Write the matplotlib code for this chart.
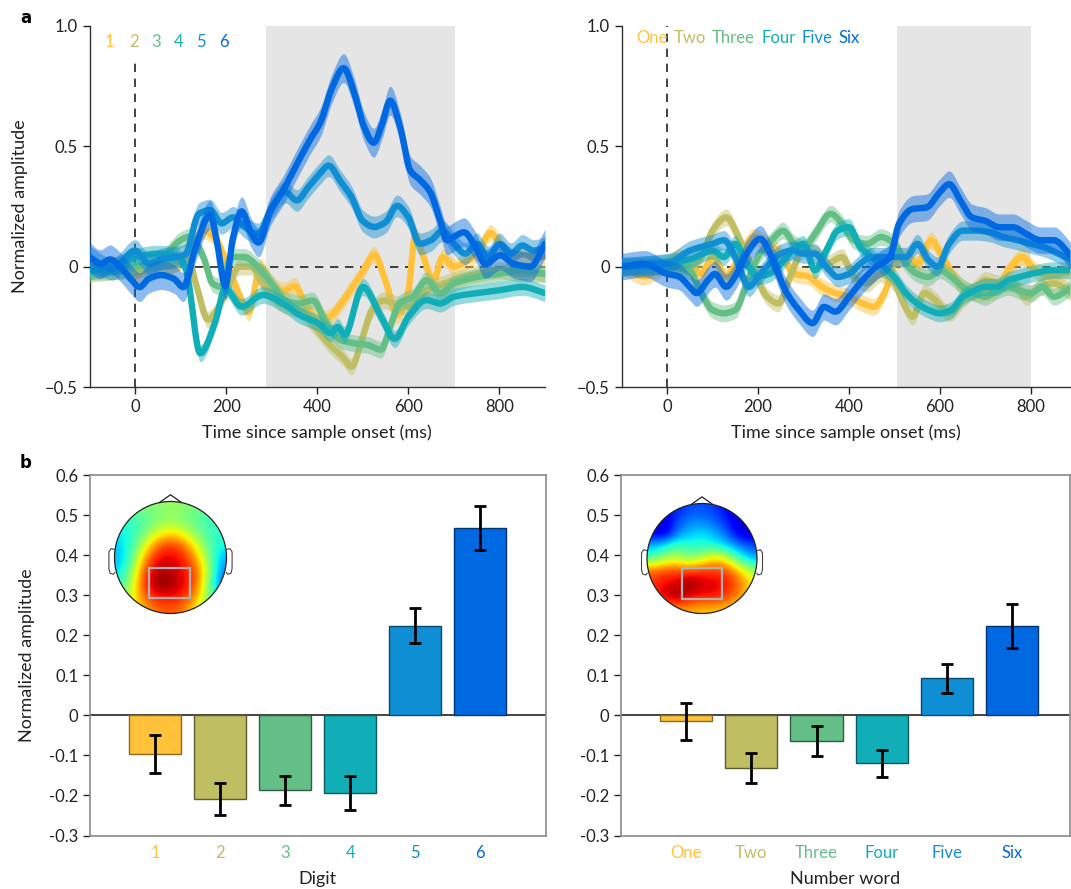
import numpy as np
import matplotlib
matplotlib.use("Agg")
import matplotlib.pyplot as plt
from matplotlib.patches import Circle, Rectangle, Polygon

plt.rcParams['font.family'] = ['Lato', 'DejaVu Sans']

# ---------------- data ----------------
colors = ['#FFC23A', '#C0BE63', '#64BF86', '#12AEB8', '#108ED3', '#0068E0']
edge_colors = ['#8a6a1c', '#5e5c2c', '#2f5e40', '#0a5a60', '#0a4a70', '#03346e']

digit_labels = ['1', '2', '3', '4', '5', '6']
word_labels = ['One', 'Two', 'Three', 'Four', 'Five', 'Six']

# panel a, left (digits): time (ms) / normalized amplitude
L1_t = [-100,-75,-50,-25,0,25,50,75,100,125,150,175,200,225,250,275,300,325,350,375,400,425,450,475,500,525,550,575,600,615,630,655,675,700,725,750,780,800,825,850,875,900]
L1_v = [0.0,-0.01,0.01,0.0,-0.04,0.0,0.02,0.0,0.03,0.08,0.15,0.12,0.02,-0.1,-0.19,0.0,-0.07,-0.1,-0.08,-0.16,-0.22,-0.21,-0.16,-0.09,-0.02,0.05,-0.06,-0.2,-0.1,0.13,0.06,-0.06,0.04,0.0,0.02,0.05,0.14,0.1,0.04,0.05,0.04,0.04]
L2_t = [-100,-50,0,50,100,115,135,160,180,200,230,255,280,320,360,400,430,455,475,500,520,545,570,600,640,700,750,800,850,900]
L2_v = [-0.03,-0.02,-0.01,0.0,0.02,0.04,-0.08,-0.22,-0.18,-0.1,0.0,0.0,-0.07,-0.153,-0.18,-0.263,-0.33,-0.373,-0.415,-0.29,-0.18,-0.14,-0.153,-0.167,-0.1,-0.056,-0.03,-0.015,-0.03,-0.03]
L3_t = [-100,-50,0,50,100,120,150,170,190,210,240,270,300,330,360,390,420,450,480,510,540,560,580,610,640,670,700,750,800,850,900]
L3_v = [-0.02,-0.02,0.0,0.02,0.11,0.125,0.04,-0.07,-0.084,0.04,0.04,0.0,-0.07,-0.14,-0.153,-0.14,-0.235,-0.304,-0.318,-0.325,-0.345,-0.25,-0.153,-0.125,-0.056,-0.11,-0.07,-0.043,-0.03,-0.015,-0.03]
L4_t = [-100,-50,0,50,90,110,117,143,176,198,234,280,330,360,402,430,445,460,500,540,570,600,640,670,700,750,800,850,900]
L4_v = [-0.02,0.0,0.04,0.054,0.047,0.0,-0.06,-0.36,-0.23,-0.09,-0.167,-0.118,-0.16,-0.2,-0.235,-0.277,-0.25,-0.284,-0.084,-0.208,-0.3,-0.208,-0.139,-0.153,-0.125,-0.11,-0.098,-0.084,-0.11]
L5_t = [-100,-50,0,30,60,90,110,140,165,190,215,240,270,300,330,355,380,405,425,450,475,500,525,550,575,600,625,650,675,700,725,750,775,800,825,850,875,900]
L5_v = [0.04,-0.01,0.067,0.012,0.033,0.04,0.05,0.22,0.235,0.18,0.205,0.165,0.136,0.245,0.31,0.275,0.33,0.385,0.42,0.357,0.29,0.19,0.165,0.185,0.253,0.205,0.095,0.11,0.15,0.095,0.054,0.095,0.04,0.095,0.054,0.088,0.067,0.08]
L6_t = [-100,-77,-55,-33,-10,10,30,58,85,106,132,165,180,198,215,234,255,271,297,326,355,385,407,432,458,480,502,524,542,560,582,604,626,648,670,685,705,722,744,769,802,831,868,900]
L6_v = [0.04,0.01,0.03,0.0,-0.05,-0.085,-0.05,-0.035,-0.05,-0.085,0.076,0.215,0.1,-0.08,0.12,0.23,0.14,0.1,0.23,0.32,0.425,0.53,0.6,0.74,0.825,0.73,0.585,0.515,0.59,0.69,0.58,0.40,0.36,0.31,0.19,0.11,0.13,0.143,0.095,0.012,0.047,0.012,0.0,0.095]
L_sem = [0.035, 0.035, 0.035, 0.035, 0.045, 0.06]

# panel a, right (number words)
R1_t = [-100,-50,0,25,50,75,100,130,160,190,220,250,280,310,340,370,400,430,455,480,500,530,550,580,605,630,660,690,720,750,780,810,840,870,890]
R1_v = [0.0,-0.04,0.01,0.04,0.01,-0.03,0.04,-0.04,0.04,0.123,0.095,0.054,-0.03,-0.04,-0.084,-0.11,-0.125,-0.153,-0.167,-0.1,0.012,0.04,0.01,0.11,0.04,-0.04,-0.1,-0.11,-0.1,-0.015,0.04,-0.015,-0.04,-0.03,-0.015]
R2_t = [-100,-50,0,50,75,100,130,160,190,220,245,270,300,330,350,385,410,440,470,500,520,540,565,590,620,650,680,700,730,760,790,820,850,890]
R2_v = [0.0,0.0,0.0,0.0,0.04,0.15,0.205,0.11,-0.015,-0.125,-0.153,-0.043,0.067,0.054,0.012,0.04,-0.04,-0.07,-0.03,-0.07,-0.153,-0.208,-0.11,-0.14,-0.194,-0.14,-0.084,-0.056,-0.07,-0.07,-0.125,-0.084,-0.07,-0.11]
R3_t = [-100,-50,0,50,75,100,125,150,175,200,230,255,280,300,325,360,385,410,440,470,500,525,550,575,600,625,650,675,700,725,750,775,800,825,850,890]
R3_v = [0.0,0.0,0.0,-0.02,-0.11,-0.18,-0.194,-0.18,-0.07,0.04,0.11,0.15,0.095,0.08,0.136,0.22,0.178,0.11,0.095,0.123,0.095,0.012,-0.03,-0.043,-0.015,-0.043,-0.084,-0.11,-0.125,-0.1,-0.084,-0.1,-0.11,-0.084,-0.125,-0.084]
R4_t = [-100,-50,0,50,100,125,150,175,200,225,250,275,300,325,350,375,400,425,450,475,500,525,550,575,600,625,650,675,700,725,750,775,800,850,890]
R4_v = [0.0,0.01,0.02,0.03,0.067,0.04,0.095,0.012,-0.04,-0.03,0.01,0.067,0.095,-0.015,0.067,0.15,0.164,0.08,0.04,0.0,-0.043,-0.11,-0.153,-0.18,-0.194,-0.18,-0.125,-0.1,-0.084,-0.084,-0.056,-0.043,-0.03,-0.015,-0.015]
R5_t = [-100,0,50,100,125,150,180,200,225,250,275,300,325,350,375,400,425,450,475,500,525,550,575,595,620,650,680,710,740,770,800,830,860,890]
R5_v = [0.0,0.012,0.067,0.095,0.11,0.04,-0.084,-0.043,0.012,0.054,0.067,0.054,0.054,0.0,-0.043,-0.03,0.012,0.04,0.04,0.04,0.04,0.095,0.026,0.0,0.095,0.15,0.15,0.143,0.123,0.11,0.095,0.08,0.054,0.026]
R6_t = [-100,-50,0,25,50,65,90,105,130,150,175,205,230,260,290,320,345,370,400,430,460,490,510,540,570,600,620,645,670,700,730,760,790,820,850,890]
R6_v = [0.0,0.012,-0.03,-0.04,-0.084,-0.11,-0.056,-0.03,-0.084,-0.04,0.054,0.116,0.04,-0.098,-0.18,-0.235,-0.167,-0.187,-0.125,-0.056,0.0,0.04,0.178,0.24,0.246,0.31,0.343,0.274,0.205,0.19,0.164,0.164,0.136,0.11,0.11,0.04]
R_sem = [0.035, 0.035, 0.035, 0.035, 0.04, 0.055]

win_left = (287, 703)
win_right = (505, 800)

# panel b: mean amplitude in window and error
digit_means = [-0.097, -0.208, -0.187, -0.194, 0.224, 0.468]
digit_err = [0.048, 0.040, 0.036, 0.042, 0.043, 0.055]
word_means = [-0.015, -0.132, -0.064, -0.120, 0.092, 0.222]
word_err = [0.046, 0.037, 0.038, 0.034, 0.036, 0.055]

# topographies (jet-normalised values, 9x9 grid, front row first)
topo_digit = [
    [0.50, 0.50, 0.50, 0.52, 0.54, 0.52, 0.50, 0.48, 0.46],
    [0.40, 0.42, 0.46, 0.50, 0.52, 0.50, 0.46, 0.42, 0.40],
    [0.36, 0.40, 0.48, 0.60, 0.66, 0.60, 0.50, 0.44, 0.40],
    [0.33, 0.42, 0.60, 0.80, 0.85, 0.80, 0.62, 0.45, 0.38],
    [0.30, 0.45, 0.74, 0.90, 0.92, 0.88, 0.74, 0.50, 0.30],
    [0.33, 0.52, 0.84, 0.95, 0.95, 0.90, 0.82, 0.55, 0.25],
    [0.40, 0.58, 0.87, 1.00, 0.98, 0.92, 0.82, 0.50, 0.20],
    [0.45, 0.62, 0.82, 0.90, 0.90, 0.88, 0.75, 0.50, 0.30],
    [0.50, 0.62, 0.72, 0.80, 0.82, 0.78, 0.65, 0.50, 0.40],
]
topo_word = [
    [0.10, 0.12, 0.15, 0.20, 0.20, 0.18, 0.12, 0.08, 0.05],
    [0.05, 0.08, 0.20, 0.25, 0.25, 0.22, 0.15, 0.06, 0.03],
    [0.12, 0.06, 0.25, 0.32, 0.35, 0.30, 0.22, 0.08, 0.08],
    [0.30, 0.38, 0.45, 0.40, 0.40, 0.38, 0.32, 0.25, 0.20],
    [0.45, 0.55, 0.58, 0.50, 0.58, 0.70, 0.60, 0.40, 0.30],
    [0.82, 0.85, 0.85, 0.85, 0.88, 0.85, 0.85, 0.70, 0.55],
    [0.85, 0.90, 0.92, 1.00, 0.92, 0.93, 0.88, 0.80, 0.65],
    [0.85, 0.95, 0.98, 0.92, 0.90, 0.90, 0.85, 0.75, 0.65],
    [0.75, 0.75, 0.75, 0.72, 0.70, 0.70, 0.68, 0.65, 0.60],
]
roi_digit = (-0.38, -0.73, 0.72, 0.54)   # x, y, w, h in head units
roi_word = (-0.36, -0.74, 0.72, 0.57)

# ---------------- figure ----------------
W, H = 1071, 889
fig = plt.figure(figsize=(W / 100, H / 100), dpi=100)

def fax(x0, y0, x1, y1):
    """axes from pixel box (left, top, right, bottom)"""
    return fig.add_axes([x0 / W, 1 - y1 / H, (x1 - x0) / W, (y1 - y0) / H])

TICK = 12
LAB = 13
spine_c = '#333333'


def smooth_curve(t, v, n=12):
    """shape-preserving cubic (PCHIP) drawn through the read points"""
    t = np.asarray(t, float)
    v = np.asarray(v, float)
    h = np.diff(t)
    d = np.diff(v) / h
    m = np.zeros_like(v)
    for k in range(1, len(v) - 1):
        if d[k - 1] * d[k] > 0:
            w1 = 2 * h[k] + h[k - 1]
            w2 = h[k] + 2 * h[k - 1]
            m[k] = (w1 + w2) / (w1 / d[k - 1] + w2 / d[k])
    m[0] = d[0]
    m[-1] = d[-1]
    ts, vs = [], []
    for k in range(len(h)):
        s = np.linspace(0, 1, n, endpoint=False)
        h00 = 2 * s**3 - 3 * s**2 + 1
        h10 = s**3 - 2 * s**2 + s
        h01 = -2 * s**3 + 3 * s**2
        h11 = s**3 - s**2
        ts.append(t[k] + s * h[k])
        vs.append(h00 * v[k] + h10 * h[k] * m[k] + h01 * v[k + 1] + h11 * h[k] * m[k + 1])
    ts.append([t[-1]])
    vs.append([v[-1]])
    return np.concatenate(ts), np.concatenate(vs)


def style_top(ax, xmax, vtop):
    ax.set_xlim(-100, xmax)
    ax.set_ylim(-0.5, 1.0)
    for s in ['top', 'right']:
        ax.spines[s].set_visible(False)
    for s in ['left', 'bottom']:
        ax.spines[s].set_color(spine_c)
        ax.spines[s].set_linewidth(1.0)
    ax.set_xticks([0, 200, 400, 600, 800])
    ax.set_yticks([-0.5, 0, 0.5, 1.0])
    ax.set_yticklabels(['\u22120.5', '0', '0.5', '1.0'])
    ax.tick_params(direction='out', length=5, width=1, colors='#222222', labelsize=TICK)
    ax.set_xlabel('Time since sample onset (ms)', fontsize=LAB, color='#222222', labelpad=7)
    ax.axhline(0, color='#222222', lw=1.2, ls=(0, (5, 4)), zorder=2)
    ax.plot([0, 0], [-0.5, vtop], color='#222222', lw=1.2, ls=(0, (5, 4)), zorder=2)

series_left = [(L1_t, L1_v), (L2_t, L2_v), (L3_t, L3_v), (L4_t, L4_v), (L5_t, L5_v), (L6_t, L6_v)]
series_right = [(R1_t, R1_v), (R2_t, R2_v), (R3_t, R3_v), (R4_t, R4_v), (R5_t, R5_v), (R6_t, R6_v)]

def draw_series(ax, series, sems):
    for i, ((t, v), s) in enumerate(zip(series, sems)):
        ts, vs = smooth_curve(t, v)
        ax.fill_between(ts, vs - s, vs + s, color=colors[i], alpha=0.45, lw=0, zorder=3 + i)
        ax.plot(ts, vs, color=colors[i], lw=4.6, solid_joinstyle='round',
                solid_capstyle='round', zorder=3.5 + i)

# top-left
ax1 = fax(89.5, 26, 545, 387)
ax1.axvspan(*win_left, color='#E5E5E5', lw=0, zorder=0)
style_top(ax1, 900, 0.86)
draw_series(ax1, series_left, L_sem)
ax1.set_ylabel('Normalized amplitude', fontsize=LAB, color='#222222', labelpad=12)
leg_x = [109, 134, 156, 179, 201, 224]
for i, lab in enumerate(digit_labels):
    fig.text(leg_x[i] / W, 1 - 42 / H, lab, color=colors[i], fontsize=TICK,
             ha='center', va='center')

# top-right
ax2 = fax(621.5, 26, 1070, 387)
ax2.axvspan(*win_right, color='#E5E5E5', lw=0, zorder=0)
style_top(ax2, 885.7, 1.0)
draw_series(ax2, series_right, R_sem)

# word legend, laid out word after word with a space between them
renderer = fig.canvas.get_renderer()
xpos = 636.5
space_px = 6
for i, lab in enumerate(word_labels):
    txt = fig.text(xpos / W, 1 - 38 / H, lab, color=colors[i], fontsize=TICK,
                   ha='left', va='center')
    xpos += txt.get_window_extent(renderer).width + space_px

# bars
def style_bar(ax, xmax, labels, xlabel):
    ax.set_xlim(0, xmax)
    ax.set_ylim(-0.3, 0.6)
    for s in ax.spines.values():
        s.set_color('#8a8a8a')
        s.set_linewidth(1.2)
    ax.set_yticks(np.round(np.arange(-0.3, 0.61, 0.1), 1))
    ax.set_yticklabels(['-0.3', '-0.2', '-0.1', '0', '0.1', '0.2', '0.3', '0.4', '0.5', '0.6'])
    ax.tick_params(axis='y', direction='out', length=5, width=1, colors='#222222', labelsize=TICK)
    ax.set_xticks(np.arange(1, 7))
    ax.set_xticklabels(labels)
    ax.tick_params(axis='x', length=0, labelsize=TICK, pad=7)
    for i, tl in enumerate(ax.get_xticklabels()):
        tl.set_color(colors[i])
    ax.set_xlabel(xlabel, fontsize=LAB, color='#222222', labelpad=7)
    ax.axhline(0, color='#111111', lw=1.1, zorder=1)

def draw_bars(ax, means, errs):
    x = np.arange(1, 7)
    ax.bar(x, means, width=0.8, color=colors, edgecolor=edge_colors, linewidth=1.0, zorder=2)
    ax.errorbar(x, means, yerr=errs, fmt='none', ecolor='black', elinewidth=2,
                capsize=4, capthick=2, zorder=3)

ax3 = fax(90, 475, 545.5, 835.5)
style_bar(ax3, 7.0, digit_labels, 'Digit')
draw_bars(ax3, digit_means, digit_err)
ax3.set_ylabel('Normalized amplitude', fontsize=LAB, color='#222222', labelpad=10)

ax4 = fax(621, 475, 1070, 835.5)
style_bar(ax4, 6.89, word_labels, 'Number word')
draw_bars(ax4, word_means, word_err)

# topographic maps
def topo(cx, cy, r, grid, roi):
    half = 1.3 * r
    tax = fax(cx - half, cy - half, cx + half, cy + half)
    tax.set_xlim(-1.3, 1.3)
    tax.set_ylim(-1.3, 1.3)
    tax.set_aspect('equal')
    tax.axis('off')
    im = tax.imshow(np.array(grid), cmap='jet', vmin=0, vmax=1, extent=[-1.02, 1.02, -1.02, 1.02],
                    interpolation='bicubic', origin='upper', zorder=1)
    clip = Circle((0, 0), 1.0, transform=tax.transData)
    im.set_clip_path(clip)
    tax.add_patch(Circle((0, 0), 1.0, fill=False, ec='#222222', lw=0.9, zorder=3))
    tax.add_patch(Polygon([[-0.2, 0.98], [0.0, 1.12], [0.2, 0.98]], closed=False,
                          fill=False, ec='#222222', lw=0.9, zorder=3))
    for sgn in (-1, 1):
        verts = [(sgn * 0.99, 0.14), (sgn * 1.06, 0.16), (sgn * 1.1, 0.1), (sgn * 1.1, -0.2),
                 (sgn * 1.08, -0.28), (sgn * 1.02, -0.3), (sgn * 0.99, -0.26)]
        tax.add_patch(Polygon(verts, closed=False, fill=False, ec='#444444', lw=0.8, zorder=3))
    tax.add_patch(Rectangle((roi[0], roi[1]), roi[2], roi[3], fill=False,
                            ec='#b0b0b0', lw=1.6, zorder=4))

topo(170.5, 557.5, 56, topo_digit, roi_digit)
topo(702, 558.5, 55, topo_word, roi_word)

# panel letters
fig.text(20 / W, 1 - 18 / H, 'a', fontsize=12, fontweight='bold', family='DejaVu Sans',
         ha='left', va='center')
fig.text(20 / W, 1 - 463 / H, 'b', fontsize=12, fontweight='bold', family='DejaVu Sans',
         ha='left', va='center')

fig.savefig('out.png', dpi=100)
